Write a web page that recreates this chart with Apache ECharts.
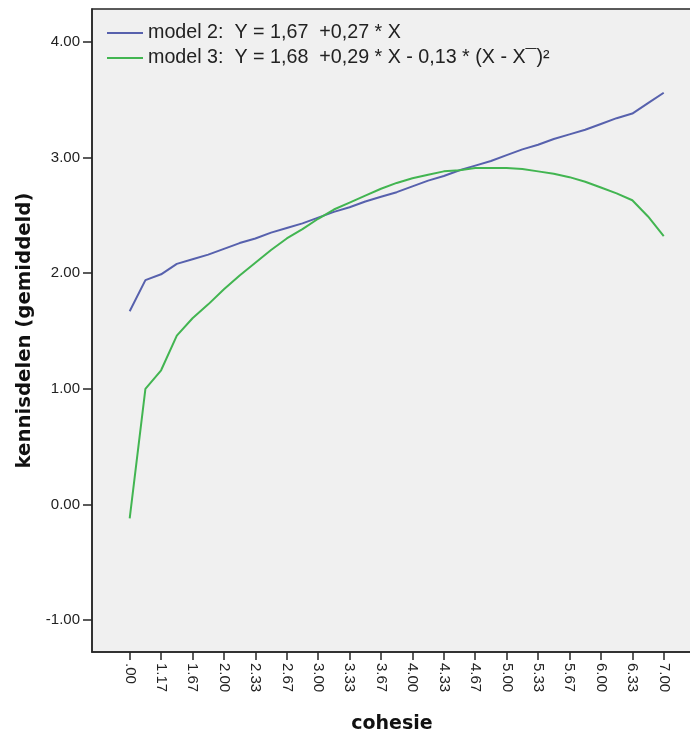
<!DOCTYPE html>
<html>
<head>
<meta charset="utf-8">
<script src="https://cdn.jsdelivr.net/npm/echarts@6/dist/echarts.min.js"></script>
<style>
  html, body { margin: 0; padding: 0; background: #ffffff; }
  #chart { width: 690px; height: 733px; }
</style>
</head>
<body>
<div id="chart"></div>
<script>
// cohesie values (categorical positions, as in the SPSS plot)
const categories = ['.00','1.00','1.17','1.50','1.67','1.83','2.00','2.17','2.33','2.50','2.67','2.83',
  '3.00','3.17','3.33','3.50','3.67','3.83','4.00','4.17','4.33','4.50','4.67','4.83',
  '5.00','5.17','5.33','5.50','5.67','5.83','6.00','6.17','6.33','6.67','7.00'];

// model 2 (linear) values
const model2 = [1.67,1.94,1.99,2.08,2.12,2.16,2.21,2.26,2.30,2.35,2.39,2.43,
  2.48,2.53,2.57,2.62,2.66,2.70,2.75,2.80,2.84,2.89,2.93,2.97,
  3.02,3.07,3.11,3.16,3.20,3.24,3.29,3.34,3.38,3.47,3.56];

// model 3 (quadratic) values
const model3 = [-0.12,1.00,1.16,1.46,1.61,1.73,1.86,1.98,2.09,2.20,2.30,2.38,
  2.47,2.55,2.61,2.67,2.73,2.78,2.82,2.85,2.88,2.89,2.91,2.91,
  2.91,2.90,2.88,2.86,2.83,2.79,2.74,2.69,2.63,2.49,2.32];

const seriesNames = ['model 2:  Y = 1,67  +0,27 * X', 'model 3:  Y = 1,68  +0,29 * X - 0,13 * (X - X\u00AF)\u00B2'];
const xLabelEvery = 2;
const yTickValues = [-1, 0, 1, 2, 3, 4];

const xLabelIdx = categories.map((c, i) => i).filter(i => i % xLabelEvery === 0);

const chart = echarts.init(document.getElementById('chart'));
const axisColor = '#262626';
const txtFont = '"Liberation Sans", Arial, sans-serif';

chart.setOption({
  animation: false,
  backgroundColor: '#ffffff',
  grid: {
    left: 92, right: -2, top: 9, bottom: 81,
    outerBoundsMode: 'none', containLabel: false,
    show: true, backgroundColor: '#f0f0f0',
    borderColor: axisColor, borderWidth: 1.5
  },
  legend: {
    left: 107, top: 23, orient: 'vertical', padding: 0,
    icon: 'rect', itemWidth: 36, itemHeight: 2, itemGap: 5,
    textStyle: { fontSize: 19.7, fontFamily: txtFont, color: '#222', lineHeight: 20 },
    data: seriesNames
  },
  xAxis: {
    type: 'value',
    min: -2.4, max: 35.8,
    name: 'cohesie', nameLocation: 'middle', nameGap: 63,
    nameTextStyle: { fontSize: 19, fontWeight: 'bold', fontFamily: '"DejaVu Sans", sans-serif', color: '#111' },
    axisLine: { show: true, onZero: false, lineStyle: { color: axisColor, width: 1.5 } },
    axisTick: { show: true, length: 8, customValues: xLabelIdx, lineStyle: { color: axisColor, width: 1.5 } },
    axisLabel: {
      customValues: xLabelIdx, rotate: -90, margin: 11,
      fontSize: 15, fontFamily: txtFont, color: '#222',
      formatter: v => categories[Math.round(v)]
    },
    splitLine: { show: false }
  },
  yAxis: {
    type: 'value',
    min: -1.276, max: 4.284,
    name: 'kennisdelen (gemiddeld)', nameLocation: 'middle', nameGap: 52,
    nameTextStyle: { fontSize: 19.7, fontWeight: 'bold', fontFamily: '"DejaVu Sans", sans-serif', color: '#111' },
    axisLine: { show: true, onZero: false, lineStyle: { color: axisColor, width: 1.5 } },
    axisTick: { show: true, length: 9, customValues: yTickValues, lineStyle: { color: axisColor, width: 1.5 } },
    axisLabel: {
      customValues: yTickValues, margin: 12,
      fontSize: 15, fontFamily: txtFont, color: '#222',
      formatter: v => v.toFixed(2)
    },
    splitLine: { show: false }
  },
  series: [
    {
      name: seriesNames[0], type: 'line', symbol: 'none',
      color: '#5761ad',
      lineStyle: { width: 2, color: '#5761ad' },
      data: categories.map((c, i) => [i, model2[i]])
    },
    {
      name: seriesNames[1], type: 'line', symbol: 'none',
      color: '#42b551',
      lineStyle: { width: 2, color: '#42b551' },
      data: categories.map((c, i) => [i, model3[i]])
    }
  ]
});
</script>
</body>
</html>
